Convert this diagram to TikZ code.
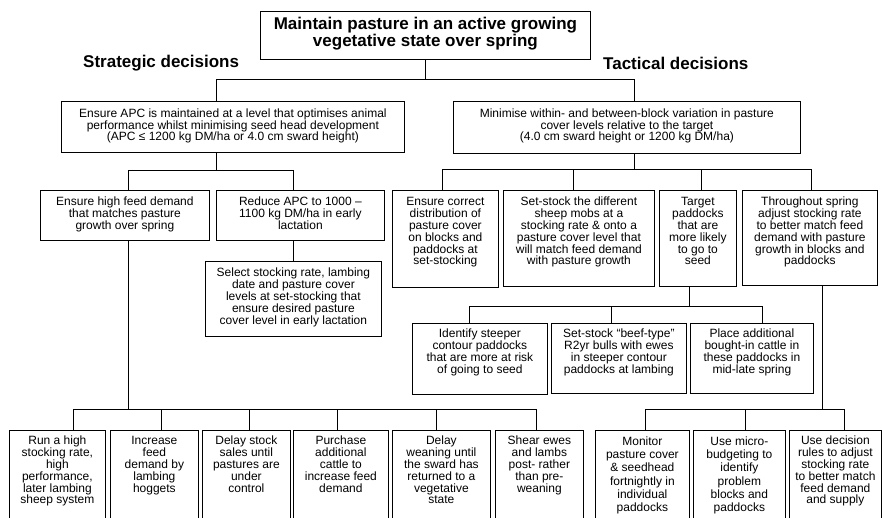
\documentclass[tikz,border=0pt]{standalone}
\usepackage{fontspec}
\setmainfont{Liberation Sans}

\newcommand{\bx}[4][14.5pt]{\parbox[t][#3][t]{#2}{\centering\rule{0pt}{#1}#4}}

\tikzstyle{blk} = [draw, line width=0.8pt, anchor=north west, inner sep=0pt, font=\fontsize{12}{11.8}\selectfont]
\tikzstyle{head} = [anchor=base west, inner sep=0pt, font=\bfseries\fontsize{17}{16.5}\selectfont]
\tikzstyle{wire} = [line width=0.8pt]

\begin{document}
\begin{tikzpicture}[x=1pt, y=-1pt]
\useasboundingbox (0,0) rectangle (882,518);
\clip (0,0) rectangle (882,518);

\node[blk, font=\bfseries\fontsize{17}{16.5}\selectfont] (goal) at (260,11)
	{\bx[18.5pt]{330pt}{48pt}{Maintain pasture in an active growing\\vegetative state over spring}};
\node[head] (strat) at (83,68) {Strategic decisions};
\node[head] (tact) at (603,70) {Tactical decisions};

\node[blk] (apc) at (61,101)
	{\bx[16pt]{343pt}{51pt}{Ensure APC is maintained at a level that optimises animal\\performance whilst minimising seed head development\\(APC ≤ 1200 kg DM/ha or 4.0 cm sward height)}};
\node[blk] (vary) at (453,101)
	{\bx[16pt]{347pt}{52pt}{Minimise within- and between-block variation in pasture\\cover levels relative to the target\\(4.0 cm sward height or 1200 kg DM/ha)}};

\node[blk] (demand) at (40,190)
	{\bx[15.5pt]{169pt}{50pt}{Ensure high feed demand\\that matches pasture\\growth over spring}};
\node[blk] (reduce) at (216,190)
	{\bx[15.5pt]{168pt}{50pt}{Reduce APC to 1000 –\\1100 kg DM/ha in early\\lactation}};
\node[blk] (select) at (205,261)
	{\bx[15.5pt]{176pt}{75pt}{Select stocking rate, lambing\\date and pasture cover\\levels at set-stocking that\\ensure desired pasture\\cover level in early lactation}};

\node[blk] (distrib) at (392,190)
	{\bx[15.5pt]{106pt}{97pt}{Ensure correct\\distribution of\\pasture cover\\on blocks and\\paddocks at\\set-stocking}};
\node[blk] (setstock) at (503,190)
	{\bx[15.5pt]{151pt}{96pt}{Set-stock the different\\sheep mobs at a\\stocking rate \& onto a\\pasture cover level that\\will match feed demand\\with pasture growth}};
\node[blk] (target) at (659,190)
	{\bx[15.5pt]{77pt}{96pt}{Target\\paddocks\\that are\\more likely\\to go to\\seed}};
\node[blk] (adjust) at (742,190)
	{\bx[15.5pt]{135pt}{95pt}{Throughout spring\\adjust stocking rate\\to better match feed\\demand with pasture\\growth in blocks and\\paddocks}};

\node[blk] (steep) at (412,323)
	{\bx{135pt}{71pt}{Identify steeper\\contour paddocks\\that are more at risk\\of going to seed}};
\node[blk] (bulls) at (551,323)
	{\bx{135pt}{70pt}{Set-stock “beef-type”\\R2yr bulls with ewes\\in steeper contour\\paddocks at lambing}};
\node[blk] (cattle) at (690,323)
	{\bx{123pt}{70pt}{Place additional\\bought-in cattle in\\these paddocks in\\mid-late spring}};

\node[blk] (runhigh) at (9,430) {\bx{96pt}{100pt}{Run a high\\stocking rate,\\high\\performance,\\later lambing\\sheep system}};
\node[blk] (hoggets) at (110,430) {\bx{88pt}{100pt}{Increase\\feed\\demand by\\lambing\\hoggets}};
\node[blk] (delay) at (202,430) {\bx{88pt}{100pt}{Delay stock\\sales until\\pastures are\\under\\control}};
\node[blk] (purchase) at (293,430) {\bx{95pt}{100pt}{Purchase\\additional\\cattle to\\increase feed\\demand}};
\node[blk] (weaning) at (392,430) {\bx{98pt}{100pt}{Delay\\weaning until\\the sward has\\returned to a\\vegetative\\state}};
\node[blk] (shear) at (495,430) {\bx{88pt}{100pt}{Shear ewes\\and lambs\\post- rather\\than pre-\\weaning}};

\node[blk, font=\fontsize{12}{13.2}\selectfont] (monitor) at (595,430)
	{\bx[15pt]{94pt}{100pt}{Monitor\\pasture cover\\\& seedhead\\fortnightly in\\individual\\paddocks}};
\node[blk, font=\fontsize{12}{13.2}\selectfont] (budget) at (693,430)
	{\bx[15pt]{92pt}{100pt}{Use micro-\\budgeting to\\identify\\problem\\blocks and\\paddocks}};
\node[blk] (rules) at (789,430)
	{\bx{92pt}{100pt}{Use decision\\rules to adjust\\stocking rate\\to better match\\feed demand\\and supply}};

\draw[wire] (goal.south) -- ++(0,20) -| ([xshift=155pt]apc.north west);
\draw[wire] (goal.south) -- ++(0,20) -| ([xshift=181pt]vary.north west);

\draw[wire] ([xshift=155pt]apc.south west) -- ++(0,18) -| ([xshift=88pt]demand.north west);
\draw[wire] ([xshift=155pt]apc.south west) -- ++(0,18) -| ([xshift=77pt]reduce.north west);
\draw[wire] ([xshift=77pt]reduce.south west) -- ([xshift=88pt]select.north west);

\draw[wire] ([xshift=88pt]demand.south west) -- ++(0,169) -| ([xshift=64pt]runhigh.north west);
\draw[wire] ([xshift=88pt]demand.south west) -- ++(0,169) -| ([xshift=51pt]hoggets.north west);
\draw[wire] ([xshift=88pt]demand.south west) -- ++(0,169) -| ([xshift=47pt]delay.north west);
\draw[wire] ([xshift=88pt]demand.south west) -- ++(0,169) -| ([xshift=44pt]purchase.north west);
\draw[wire] ([xshift=88pt]demand.south west) -- ++(0,169) -| ([xshift=44pt]weaning.north west);
\draw[wire] ([xshift=88pt]demand.south west) -- ++(0,169) -| ([xshift=41pt]shear.north west);

\draw[wire] ([xshift=181pt]vary.south west) -- ++(0,16) -| ([xshift=50pt]distrib.north west);
\draw[wire] ([xshift=181pt]vary.south west) -- ++(0,16) -| ([xshift=70pt]setstock.north west);
\draw[wire] ([xshift=181pt]vary.south west) -- ++(0,16) -| ([xshift=42pt]target.north west);
\draw[wire] ([xshift=181pt]vary.south west) -- ++(0,16) -| ([xshift=69pt]adjust.north west);

\draw[wire] ([xshift=30pt]target.south west) -- ++(0,20) -| ([xshift=57pt]steep.north west);
\draw[wire] ([xshift=30pt]target.south west) -- ++(0,20) -| ([xshift=60pt]bulls.north west);
\draw[wire] ([xshift=30pt]target.south west) -- ++(0,20) -| ([xshift=72pt]cattle.north west);

\draw[wire] ([xshift=80pt]adjust.south west) -- ++(0,124) -| ([xshift=50pt]monitor.north west);
\draw[wire] ([xshift=80pt]adjust.south west) -- ++(0,124) -| ([xshift=52pt]budget.north west);
\draw[wire] ([xshift=80pt]adjust.south west) -- ++(0,124) -| ([xshift=55pt]rules.north west);
\end{tikzpicture}
\end{document}
